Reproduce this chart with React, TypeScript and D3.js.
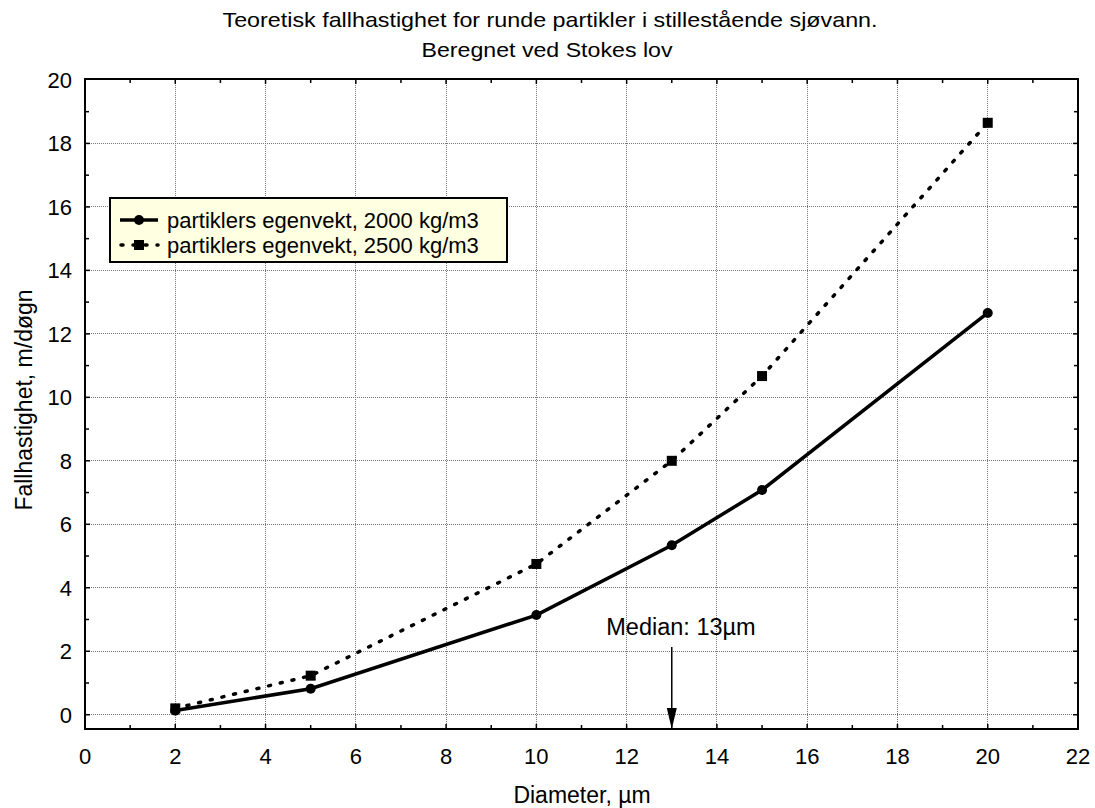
import * as d3 from "d3";

const diameters = [2, 5, 10, 13, 15, 20];
const speed2000 = [0.13, 0.82, 3.14, 5.34, 7.08, 12.66];
const speed2500 = [0.2, 1.23, 4.75, 8.0, 10.67, 18.65];
const seriesNames = [
  "partiklers egenvekt, 2000 kg/m3",
  "partiklers egenvekt, 2500 kg/m3",
];
const xTicks = [0, 2, 4, 6, 8, 10, 12, 14, 16, 18, 20, 22];
const yTicks = [0, 2, 4, 6, 8, 10, 12, 14, 16, 18, 20];
const medianValue = 13;

const W = 1095;
const H = 808;
const FONT = "'Liberation Sans', Arial, sans-serif";

export default function App() {
  const left = 85;
  const right = 1078;
  const top = 79;
  const bottom = 729;

  const x = d3.scaleLinear([0, 22], [left, right]);
  const y = d3.scaleLinear([-0.45, 20.03], [bottom, top]);

  const pts2000 = diameters.map((d, i) => [d, speed2000[i]] as [number, number]);
  const pts2500 = diameters.map((d, i) => [d, speed2500[i]] as [number, number]);

  const line = d3
    .line<[number, number]>()
    .x((d) => x(d[0]))
    .y((d) => y(d[1]));

  const xMinor = d3.range(1, 22, 1);
  const yMinor = d3.range(1, 20, 1);

  const mx = x(medianValue);

  return (
    <svg
      width={W}
      height={H}
      style={{ position: "absolute", left: 0, top: 0, background: "#fff" }}
      fontFamily={FONT}
    >
      {/* title */}
      <text x={550} y={27} fontSize={21} textAnchor="middle" textLength={655} lengthAdjust="spacingAndGlyphs">
        Teoretisk fallhastighet for runde partikler i stillestående sjøvann.
      </text>
      <text x={547} y={57} fontSize={21} textAnchor="middle" textLength={251} lengthAdjust="spacingAndGlyphs">
        Beregnet ved Stokes lov
      </text>

      {/* grid */}
      <g stroke="#777" strokeWidth={1} strokeDasharray="1,1" shapeRendering="crispEdges">
        {xTicks.filter((t) => t > 0 && t < 22).map((t) => (
          <line key={"gx" + t} x1={x(t)} x2={x(t)} y1={top} y2={bottom} />
        ))}
        {yTicks.filter((t) => t < 20).map((t) => (
          <line key={"gy" + t} x1={left} x2={right} y1={y(t)} y2={y(t)} />
        ))}
      </g>

      {/* ticks on all four sides, pointing inward */}
      <g stroke="#000" strokeWidth={1.5}>
        {xMinor.map((t) => (
          <g key={"tx" + t}>
            <line x1={x(t)} x2={x(t)} y1={bottom} y2={bottom - (t % 2 ? 4 : 5)} />
            <line x1={x(t)} x2={x(t)} y1={top} y2={top + (t % 2 ? 4 : 5)} />
          </g>
        ))}
        {yMinor.map((t) => (
          <g key={"ty" + t}>
            <line x1={left} x2={left + (t % 2 ? 4 : 5)} y1={y(t)} y2={y(t)} />
            <line x1={right} x2={right - (t % 2 ? 4 : 5)} y1={y(t)} y2={y(t)} />
          </g>
        ))}
        <line x1={left} x2={left + 5} y1={y(0)} y2={y(0)} />
        <line x1={right} x2={right - 5} y1={y(0)} y2={y(0)} />
      </g>

      {/* frame */}
      <rect x={left} y={top} width={right - left} height={bottom - top} fill="none" stroke="#000" strokeWidth={2} />

      {/* tick labels */}
      <g fontSize={22} fill="#000">
        {xTicks.map((t) => (
          <text key={"lx" + t} x={x(t)} y={764} textAnchor="middle">
            {t}
          </text>
        ))}
        {yTicks.map((t) => (
          <text key={"ly" + t} x={72} y={y(t) + 8} textAnchor="end">
            {t}
          </text>
        ))}
      </g>

      {/* axis titles */}
      <text x={582} y={803} fontSize={23} textAnchor="middle">
        Diameter, µm
      </text>
      <text transform="translate(32,400) rotate(-90)" fontSize={23} textAnchor="middle">
        Fallhastighet, m/døgn
      </text>

      {/* series */}
      <path d={line(pts2500) || undefined} fill="none" stroke="#000" strokeWidth={3.5} strokeDasharray="2,10" strokeLinecap="round" />
      <path d={line(pts2000) || undefined} fill="none" stroke="#000" strokeWidth={3.5} />
      {pts2000.map((p, i) => (
        <circle key={"c" + i} cx={x(p[0])} cy={y(p[1])} r={5} fill="#000" />
      ))}
      {pts2500.map((p, i) => (
        <rect key={"s" + i} x={x(p[0]) - 5} y={y(p[1]) - 5} width={10} height={10} fill="#000" />
      ))}

      {/* median annotation */}
      <text x={681} y={635} fontSize={23.5} textAnchor="middle">
        Median: 13µm
      </text>
      <line x1={mx} x2={mx} y1={647} y2={712} stroke="#000" strokeWidth={1.5} />
      <path d={`M${mx - 5},${708} L${mx + 5},${708} L${mx},${729} Z`} fill="#000" />

      {/* legend */}
      <g>
        <rect x={110} y={198} width={397} height={64} fill="#ffffe1" stroke="#000" strokeWidth={2} />
        <line x1={120} x2={158} y1={220} y2={220} stroke="#000" strokeWidth={3.5} />
        <circle cx={139} cy={220} r={5} fill="#000" />
        <line x1={121} x2={158} y1={245} y2={245} stroke="#000" strokeWidth={3.5} strokeDasharray="2,10" strokeLinecap="round" />
        <rect x={134} y={240} width={10} height={10} fill="#000" />
        <text x={167} y={228} fontSize={22}>
          {seriesNames[0]}
        </text>
        <text x={167} y={253} fontSize={22}>
          {seriesNames[1]}
        </text>
      </g>
    </svg>
  );
}
